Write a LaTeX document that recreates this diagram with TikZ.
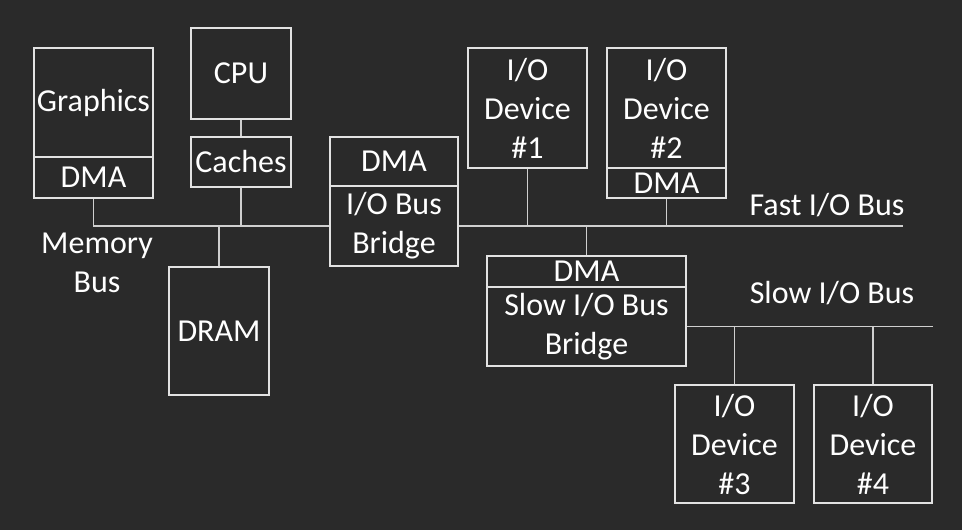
\documentclass[tikz,border=0pt]{standalone}
\usepackage{fontspec}
\setmainfont{Carlito}
\usepackage{tikz}

\definecolor{bg}{HTML}{2A2A2A}
\definecolor{edge}{HTML}{E2E2E2}
\definecolor{wire}{HTML}{CFCFCF}

\begin{document}
\begin{tikzpicture}[x=1pt, y=-1pt,
  font=\fontsize{32}{39}\selectfont,
  box/.style={draw=edge, line width=1.6pt, inner sep=0pt, text=white, align=center},
  bus/.style={draw=wire, line width=1.6pt},
  lbl/.style={text=white, align=center}]
  \fill[bg] (0,0) rectangle (962,530);
  \useasboundingbox (0,0) rectangle (962,530);
  % memory side
  \node[box, minimum width=119, minimum height=109] (gfx)    at (93.5,102.5) {Graphics};
  \node[box, minimum width=119, minimum height=41]  (gfxdma) at (93.5,177.5) {DMA};
  \node[box, minimum width=100, minimum height=91]  (cpu)    at (241,73.5)   {CPU};
  \node[box, minimum width=100, minimum height=50]  (cache)  at (241,162)    {Caches};
  \node[box, minimum width=100, minimum height=128] (dram)   at (219,331)    {DRAM};
  % I/O bus bridge
  \node[box, minimum width=128, minimum height=49]  (iodma)  at (394,161.5)  {DMA};
  \node[box, minimum width=128, minimum height=80]  (iobr)   at (394,226)    {I/O Bus\\Bridge};
  % fast devices
  \node[box, minimum width=119, minimum height=120] (dev1)   at (527.5,108)  {I/O\\Device\\\#1};
  \node[box, minimum width=119, minimum height=120] (dev2)   at (666.5,108)  {I/O\\Device\\\#2};
  \node[box, minimum width=119, minimum height=30]  (dev2dma) at (666.5,183) {DMA};
  % slow bus bridge
  \node[box, minimum width=199, minimum height=31]  (sdma)   at (586.5,271.5) {DMA};
  \node[box, minimum width=199, minimum height=79]  (sbr)    at (586.5,326.5) {Slow I/O Bus\\Bridge};
  % slow devices
  \node[box, minimum width=119, minimum height=118] (dev3)   at (734.5,444)  {I/O\\Device\\\#3};
  \node[box, minimum width=118, minimum height=118] (dev4)   at (873,444)    {I/O\\Device\\\#4};
  % bus ends
  \coordinate (fastend) at (903,226);
  \coordinate (slowend) at (933,326.5);
  % memory bus
  \draw[bus] (gfxdma.south) |- (iobr.west);
  \draw[bus] (cpu.south) -- (cache.north);
  \draw[bus] (cache.south) -- (cache.south |- iobr.west);
  \draw[bus] (dram.north) -- (dram.north |- iobr.west);
  % fast I/O bus
  \draw[bus] (iobr.east) -- (fastend);
  \draw[bus] (dev1.south) -- (dev1.south |- fastend);
  \draw[bus] (dev2dma.south) -- (dev2dma.south |- fastend);
  \draw[bus] (sdma.north) -- (sdma.north |- fastend);
  % slow I/O bus
  \draw[bus] (sbr.east) -- (slowend);
  \draw[bus] (dev3.north) -- (dev3.north |- slowend);
  \draw[bus] (dev4.north) -- (dev4.north |- slowend);
  % bus labels
  \node[lbl] (memlbl)  at (97,263)  {Memory\\Bus};
  \node[lbl] (fastlbl) at (827,205) {Fast I/O Bus};
  \node[lbl] (slowlbl) at (832,293) {Slow I/O Bus};
\end{tikzpicture}
\end{document}
